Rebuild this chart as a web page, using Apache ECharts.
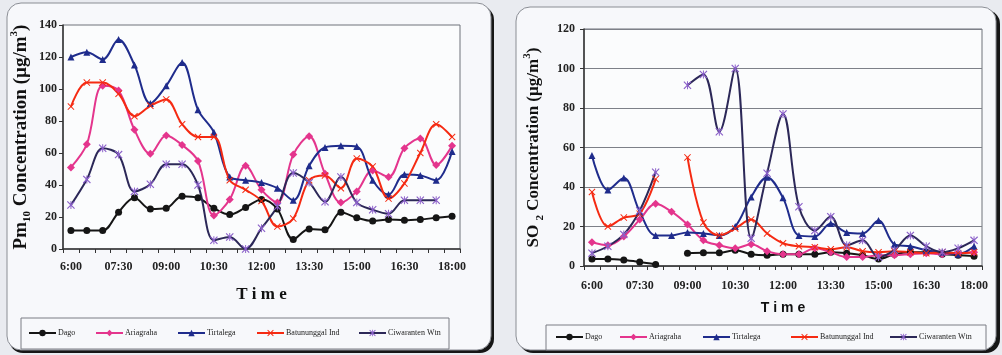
<!DOCTYPE html>
<html>
<head>
<meta charset="utf-8">
<script src="https://cdn.jsdelivr.net/npm/echarts@6/dist/echarts.min.js"></script>
<style>
  html, body { margin: 0; padding: 0; background: #e9ebf0; }
  #chart { width: 1002px; height: 355px; }
</style>
</head>
<body>
<div id="chart"></div>
<script>
// 时间轴（每 30 分钟一个点）
const times = ['6:00', '06:30', '07:00', '07:30', '08:00', '08:30', '09:00', '09:30', '10:00', '10:30',
  '11:00', '11:30', '12:00', '12:30', '13:00', '13:30', '14:00', '14:30', '15:00', '15:30',
  '16:00', '16:30', '17:00', '17:30', '18:00'];
const stations = ['Dago', 'Ariagraha', 'Tirtalega', 'Batununggal Ind', 'Ciwaranten Wtn'];

// PM10
const pmDago = [11.5, 11.5, 11.5, 23, 32, 25, 25.5, 33, 32, 25.5, 21.5, 26, 31, 25, 6, 12.5, 12, 23, 19.5, 17.5, 18.5, 18, 18.5, 19.5, 20.5];
const pmAriagraha = [51, 65.5, 102, 99, 74.5, 59.5, 71, 65, 55, 21, 31, 52, 37, 29, 59, 70.5, 47, 29, 36, 49, 45, 63, 69, 52.5, 64.5];
const pmTirtalega = [120, 123, 118.5, 131, 115, 91, 102, 116.5, 87, 73, 45, 43, 41.5, 38, 30.5, 52, 63.5, 64.5, 64, 43, 34, 46.5, 46, 43, 61];
const pmBatununggal = [89, 104, 104, 97, 83, 89.5, 93.5, 78, 70, 70, 43, 37, 30, 14, 19, 43, 46, 38, 56.5, 51.5, 31.5, 41, 60, 78, 70];
const pmCiwaranten = [27.5, 43.5, 63, 59, 36, 40.5, 53, 53, 40, 5.5, 7.5, 0, 13, 26.5, 47.5, 41.5, 29.5, 45, 29, 24.5, 22, 30.5, 30.5, 30.5, null];

// SO2
const so2Dago = [3.5, 3.5, 3, 2, 0.8, null, 6.5, 6.7, 6.7, 8, 6, 5.5, 6, 6, 6, 7, 6.5, 5.5, 3.5, 6, 7, 7, 6, 5.5, 5];
const so2Ariagraha = [12, 10.5, 15, 23.5, 31.5, 27.5, 21, 13, 10.5, 9, 11, 7.5, 6, 6, 9, 7, 4.5, 4.5, 5.5, 5.5, 6, 6.5, 6, 6.5, 7];
const so2Tirtalega = [56, 38.5, 44.5, 27.5, 15.5, 15.5, 17, 16.5, 15.5, 20, 35, 45, 34.5, 15.5, 15, 21.5, 17, 16.5, 23, 11, 10, 8, 7, 6, 10];
const so2Batununggal = [37.5, 20, 24.5, 26.5, 44, null, 55, 22, 15.5, 19, 23.5, 16.5, 11.5, 10, 9.5, 8.5, 9.5, 7.5, 7, 7.5, 7, 6.5, 7, 6.5, 7];
const so2Ciwaranten = [6.5, 10, 16, 28, 47.5, null, 91.5, 97, 68, 100, 14, 47, 77, 30, 18, 25, 10.5, 13, 4.5, 8, 15.5, 10, 7, 9, 13];

const SERIF = '"Liberation Serif", "DejaVu Serif", serif';
const SANS = '"Liberation Sans", Arial, sans-serif';

const X_MARK = 'path://M0,1L1,0L5,4L9,0L10,1L6,5L10,9L9,10L5,6L1,10L0,9L4,5Z';
const STAR_MARK = 'path://M0,1L1,0L5,4L9,0L10,1L6,5L10,9L9,10L5,6L1,10L0,9L4,5Z M4.4,0L5.6,0L5.6,10L4.4,10Z';

const styles = [
  { line: '#151515', mark: '#151515', symbol: 'circle', size: 7 },
  { line: '#e4358d', mark: '#e4358d', symbol: 'diamond', size: 8 },
  { line: '#1f2c8c', mark: '#1f2c8c', symbol: 'triangle', size: 7 },
  { line: '#f52a12', mark: '#f52a12', symbol: X_MARK, size: 7 },
  { line: '#2c2858', mark: '#8a5fc9', symbol: STAR_MARK, size: 8 }
];

// 图例位置（每个站点单独一个图例，便于对齐）
const legendLeftPm = [28, 95, 177, 256, 358];
const legendLeftSo2 = [555, 619, 702, 790, 889];

function makeSeries(data, axis) {
  return data.map((values, i) => ({
    name: stations[i],
    type: 'line',
    xAxisIndex: axis,
    yAxisIndex: axis,
    data: values,
    smooth: 0.35,
    connectNulls: false,
    symbol: styles[i].symbol,
    symbolSize: styles[i].size,
    showAllSymbol: true,
    lineStyle: { color: styles[i].line, width: 2 },
    itemStyle: { color: styles[i].mark },
    emphasis: { disabled: true }
  }));
}

function makeLegends(lefts, top) {
  return lefts.map((left, i) => ({
    data: [stations[i]],
    left: left,
    top: top,
    padding: 0,
    itemWidth: 27,
    itemHeight: 8,
    selectedMode: false,
    textStyle: { fontFamily: SERIF, fontSize: 8, color: '#222', padding: [0, 0, 0, -3] }
  }));
}

const chart = echarts.init(document.getElementById('chart'));

const axisLabelStyle = { fontFamily: SERIF, fontWeight: 'bold', fontSize: 12, color: '#222' };
const richSubSup = {
  s: { fontFamily: SERIF, fontWeight: 'bold', fontSize: 11, color: '#111', verticalAlign: 'bottom', lineHeight: 15 },
  u: { fontFamily: SERIF, fontWeight: 'bold', fontSize: 11, color: '#111', verticalAlign: 'top', lineHeight: 24 }
};

chart.setOption({
  animation: false,
  graphic: [
    { type: 'rect', z: -10, shape: { x: 9, y: 6, width: 485, height: 347, r: 14 }, style: { fill: '#161616' } },
    { type: 'rect', z: -9, shape: { x: 7, y: 3, width: 484, height: 347, r: 14 }, style: { fill: '#f7f8fb', stroke: '#8a8d94', lineWidth: 1 } },
    { type: 'rect', z: -8, shape: { x: 21, y: 318, width: 428, height: 31 }, style: { fill: '#f7f8fb', stroke: '#7a7d84', lineWidth: 1 } },
    { type: 'rect', z: -10, shape: { x: 519, y: 10, width: 481, height: 343, r: 14 }, style: { fill: '#161616' } },
    { type: 'rect', z: -9, shape: { x: 516, y: 7, width: 480, height: 343, r: 14 }, style: { fill: '#f7f8fb', stroke: '#8a8d94', lineWidth: 1 } },
    { type: 'rect', z: -8, shape: { x: 546, y: 325, width: 440, height: 25 }, style: { fill: '#f7f8fb', stroke: '#7a7d84', lineWidth: 1 } }
  ],
  legend: [...makeLegends(legendLeftPm, 329), ...makeLegends(legendLeftSo2, 333)],
  grid: [
    { left: 63, right: 542, top: 25, bottom: 106, show: true, borderColor: '#6f727a', borderWidth: 1, backgroundColor: '#fbfcfd' },
    { left: 584, right: 20, top: 29, bottom: 89, show: true, borderColor: '#6f727a', borderWidth: 1, backgroundColor: '#fbfcfd' }
  ],
  xAxis: [0, 1].map(g => ({
    type: 'category',
    gridIndex: g,
    data: times,
    boundaryGap: true,
    name: 'T i m e',
    nameLocation: 'middle',
    nameGap: g === 0 ? 37 : 35,
    nameTextStyle: g === 0
      ? { fontFamily: SERIF, fontWeight: 'bold', fontSize: 17, color: '#111' }
      : { fontFamily: SANS, fontWeight: 'bold', fontSize: 14, color: '#111' },
    axisLine: { lineStyle: { color: '#333', width: 1.5 } },
    axisTick: { show: true, interval: 0, length: 4, lineStyle: { color: '#333' } },
    axisLabel: Object.assign({ interval: 2, margin: g === 0 ? 12 : 14 }, axisLabelStyle),
    splitLine: { show: false }
  })),
  yAxis: [
    {
      type: 'value', gridIndex: 0, min: 0, max: 140, interval: 20,
      name: 'Pm{s|10} Concentration (\u00b5g/m{u|3})',
      nameLocation: 'middle', nameGap: 30,
      nameTextStyle: { fontFamily: SERIF, fontWeight: 'bold', fontSize: 19, color: '#111', rich: richSubSup },
      axisLine: { show: true, lineStyle: { color: '#333', width: 1.5 } },
      axisTick: { show: true, length: 4, lineStyle: { color: '#333' } },
      axisLabel: Object.assign({ margin: 6 }, axisLabelStyle),
      splitLine: { show: false }
    },
    {
      type: 'value', gridIndex: 1, min: 0, max: 120, interval: 20,
      name: 'SO {s|2} Concentration (\u00b5g/m{u|3})',
      nameLocation: 'middle', nameGap: 38,
      nameTextStyle: { fontFamily: SERIF, fontWeight: 'bold', fontSize: 17, color: '#111', rich: richSubSup },
      axisLine: { show: true, lineStyle: { color: '#333', width: 1.5 } },
      axisTick: { show: true, length: 4, lineStyle: { color: '#333' } },
      axisLabel: Object.assign({ margin: 9 }, axisLabelStyle),
      splitLine: { show: true, lineStyle: { color: '#7d8088', width: 1 } }
    }
  ],
  series: [
    ...makeSeries([pmDago, pmAriagraha, pmTirtalega, pmBatununggal, pmCiwaranten], 0),
    ...makeSeries([so2Dago, so2Ariagraha, so2Tirtalega, so2Batununggal, so2Ciwaranten], 1)
  ]
});
</script>
</body>
</html>
